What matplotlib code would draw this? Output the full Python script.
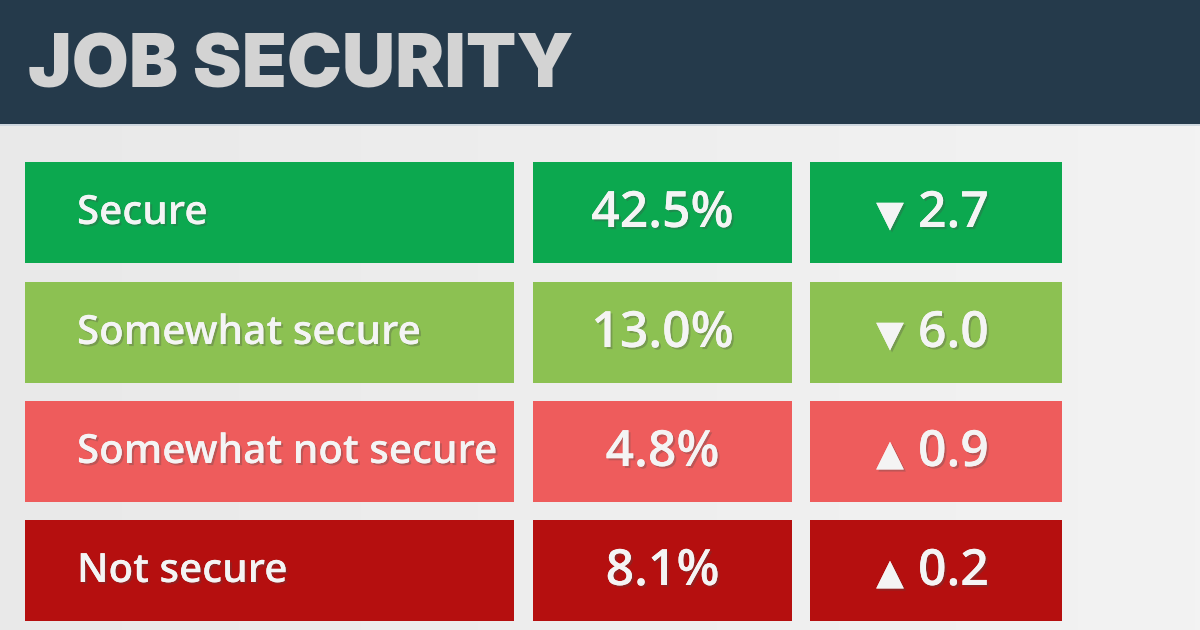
import matplotlib.pyplot as plt
import matplotlib.patheffects as pe
from matplotlib.colors import LinearSegmentedColormap
import numpy as np

# Table content
categories = ["Secure", "Somewhat secure", "Somewhat not secure", "Not secure"]
shares = [42.5, 13.0, 4.8, 8.1]
changes = [2.7, 6.0, 0.9, 0.2]
directions = ["down", "down", "up", "up"]
row_colors = ["#0ca84f", "#8cc152", "#ee5c5c", "#b50f0f"]

title = "JOB SECURITY"

fig = plt.figure(figsize=(12, 6.3), dpi=100)
ax = fig.add_axes([0, 0, 1, 1])
ax.set_xlim(0, 1200)
ax.set_ylim(630, 0)
ax.axis("off")

# light background with a faint left-to-right gradient
grad = np.linspace(0, 1, 256).reshape(1, -1)
bg = LinearSegmentedColormap.from_list("bg", ["#e9e9e9", "#eeeeee", "#f3f3f3"])
ax.imshow(grad, extent=[0, 1200, 630, 124], cmap=bg, aspect="auto", zorder=0)

# header band
ax.barh(62, 1200, height=124, left=0, color="#253a4b", zorder=1)
ax.plot([0, 1200], [125, 125], color="#c9d3dc", lw=1.2, zorder=2)
ax.text(28, 88, title, fontsize=53, fontweight="black", family=["Inter", "DejaVu Sans"],
        color="#d3d3d3", va="baseline", ha="left", zorder=3)

row_centers = [212, 332, 451, 570]
row_height = 101
cols = [(25, 489), (533, 259), (810, 252)]
fam = ["Open Sans", "DejaVu Sans"]
txt = "#f4f4f4"


def fx():
    return [pe.withSimplePatchShadow(offset=(1.5, -1.5), alpha=0.3), pe.Normal()]


for i, cat in enumerate(categories):
    yc = row_centers[i]
    for left, width in cols:
        ax.barh(yc, width, height=row_height, left=left, color=row_colors[i], zorder=2)
    ax.text(77, yc + 2, cat, fontsize=29, fontweight="semibold", family=fam, color=txt,
            va="center", ha="left", zorder=3, path_effects=fx())
    ax.text(cols[1][0] + cols[1][1] / 2, yc + 2, f"{shares[i]:.1f}%", fontsize=36, fontweight="semibold",
            family=fam, color=txt, va="center", ha="center", zorder=3, path_effects=fx())
    c3 = cols[2][0] + cols[2][1] / 2
    arrow = "\u25bc" if directions[i] == "down" else "\u25b2"
    ax.text(c3 - 46, yc + 4, arrow, fontsize=26, family=["DejaVu Sans"], color=txt,
            va="center", ha="center", zorder=3, path_effects=fx())
    ax.text(c3 - 18, yc + 2, f"{changes[i]:.1f}", fontsize=36, fontweight="semibold",
            family=fam, color=txt, va="center", ha="left", zorder=3, path_effects=fx())

fig.savefig("out.png", dpi=100)
